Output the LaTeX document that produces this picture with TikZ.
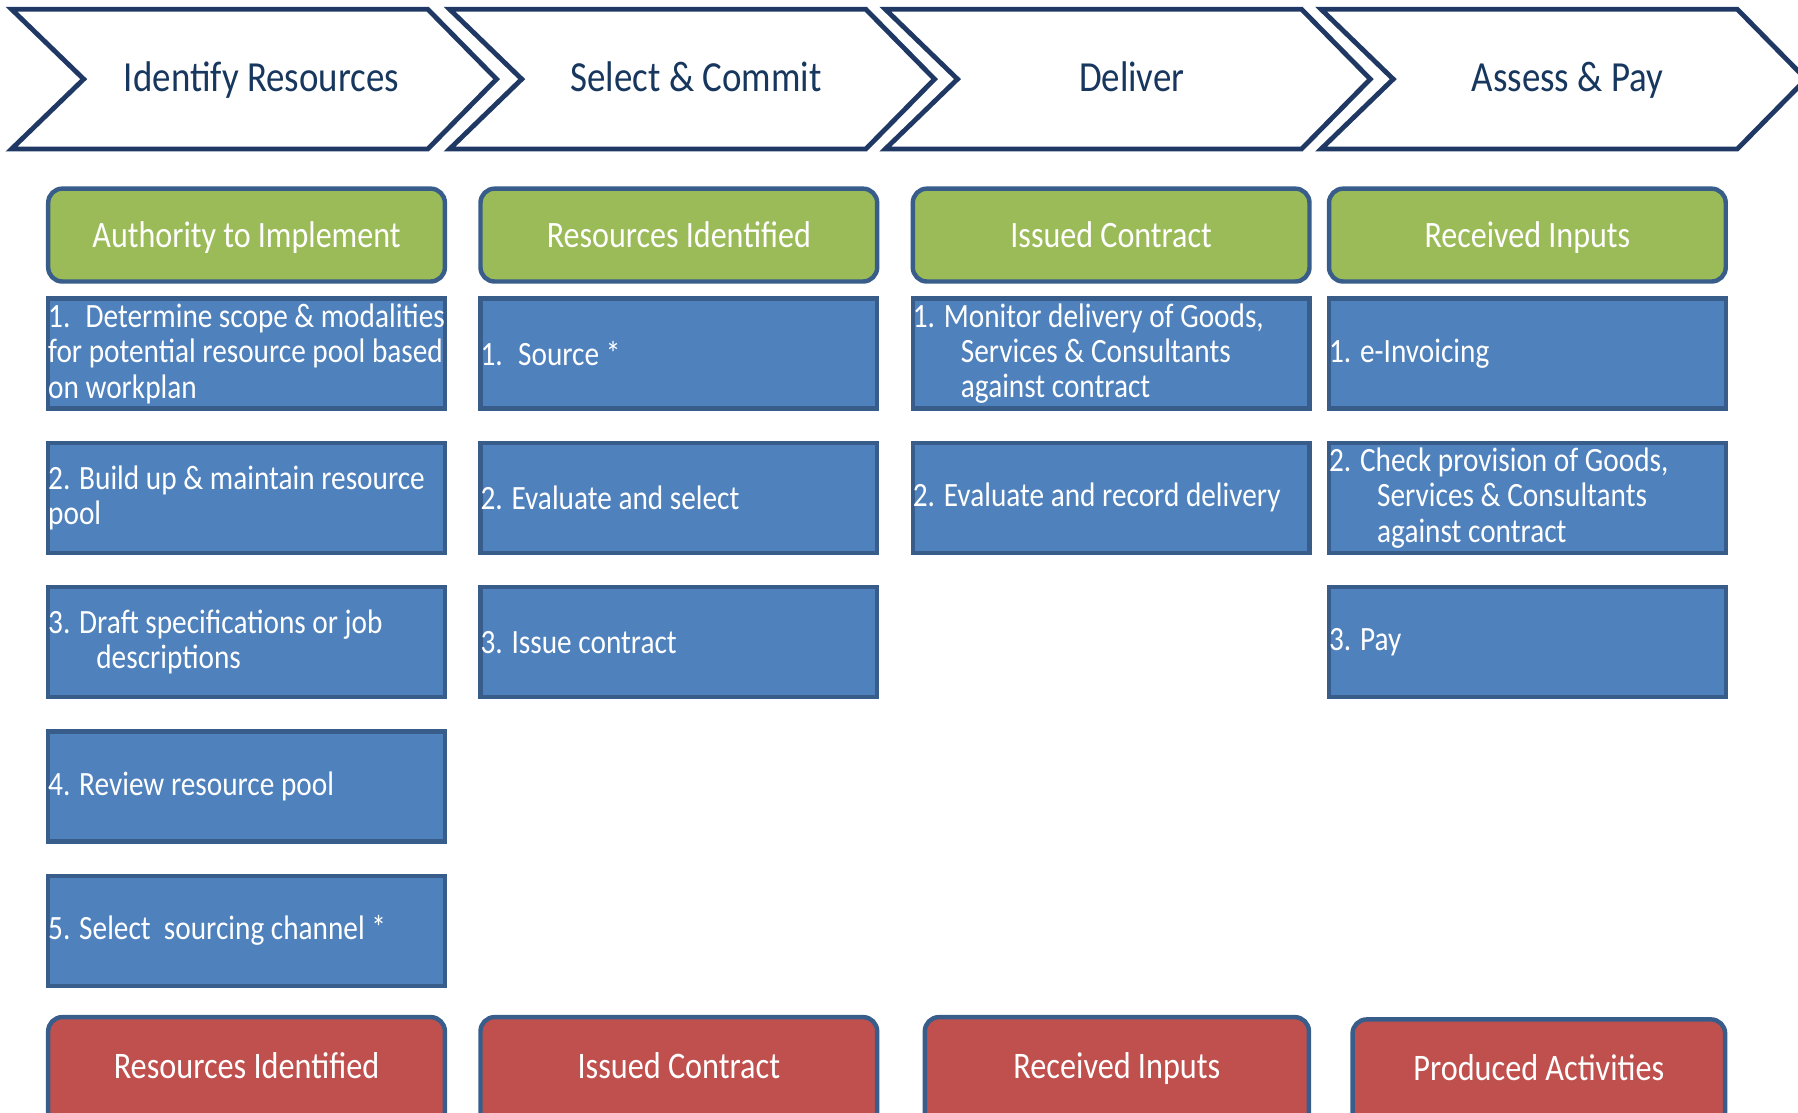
\documentclass[tikz,border=0pt]{standalone}
\usepackage{fontspec}
\setmainfont{Carlito}[FakeStretch=0.86]
\usetikzlibrary{positioning}
\definecolor{navy}{HTML}{1F3864}
\definecolor{headblue}{HTML}{17375E}
\definecolor{edgeblue}{HTML}{385D8A}
\definecolor{leaf}{HTML}{9BBB59}
\definecolor{sky}{HTML}{4F81BD}
\definecolor{brick}{HTML}{C0504D}
\begin{document}
\begin{tikzpicture}[x=0.02cm,y=-0.02cm,
  phase/.style={draw=navy,line width=2.4pt,line join=miter,fill=white},
  phasetext/.style={text=headblue,anchor=base,font=\fontsize{21.3}{25}\selectfont},
  outcome/.style={rectangle,rounded corners=7pt,draw=edgeblue,line width=2.2pt,fill=leaf,text=white,minimum width=6.92cm,minimum height=1.62cm,text height=1.38em,text depth=0.15em,font=\fontsize{18.5}{22}\selectfont},
  task/.style={rectangle,draw=edgeblue,line width=2.2pt,fill=sky,text=white,text width=6.92cm,inner xsep=0pt,inner ysep=0pt,minimum height=1.92cm,align=flush left,font=\fontsize{16.9}{17.6}\selectfont},
  result/.style={rectangle,rounded corners=7pt,draw=edgeblue,line width=2.2pt,fill=brick,text=white,minimum height=1.92cm,text height=0.9em,text depth=0.26em,font=\fontsize{18.6}{22}\selectfont}]
\useasboundingbox (0,0) rectangle (1568,970);

% phases
\draw [phase] (10,8) -- (373,8) -- (433,69) -- (373,130) -- (10,130) -- (73,69) -- cycle;
\draw [phase] (392,8) -- (755,8) -- (815,69) -- (755,130) -- (392,130) -- (455,69) -- cycle;
\draw [phase] (772,8) -- (1135,8) -- (1195,69) -- (1135,130) -- (772,130) -- (835,69) -- cycle;
\draw [phase] (1152,8) -- (1515,8) -- (1575,69) -- (1515,130) -- (1152,130) -- (1215,69) -- cycle;
\node [phasetext] (identify) at (228,80) {Identify Resources};
\node [phasetext] (select) at (607,80) {Select \& Commit};
\node [phasetext] (deliver) at (987,80) {Deliver};
\node [phasetext] (assess) at (1367,80) {Assess \& Pay};

% inputs
\node [outcome] (authority) at (215,205) {Authority to Implement};
\node [outcome] (identified) at (592,205) {Resources Identified};
\node [outcome] (issued) at (969,205) {Issued Contract};
\node [outcome] (received) at (1332,205) {Received Inputs};

% column 1
\node [task,below=0.22cm of authority] (scope) {1.~ Determine scope \& modalities\\for potential resource pool based\\on workplan};
\node [task,below=0.52cm of scope] (build) {2. Build up \& maintain resource\\pool};
\node [task,below=0.52cm of build] (draft) {3. Draft specifications or job\\\hspace*{0.84cm}descriptions};
\node [task,below=0.52cm of draft] (review) {4. Review resource pool};
\node [task,below=0.52cm of review] (channel) {5. Select~ sourcing channel *};

% column 2
\node [task,below=0.22cm of identified] (source) {1.~ Source *};
\node [task,below=0.52cm of source] (evaluate) {2. Evaluate and select};
\node [task,below=0.52cm of evaluate] (contract) {3. Issue contract};

% column 3
\node [task,below=0.22cm of issued] (monitor) {1. Monitor delivery of Goods,\\\hspace*{0.84cm}Services \& Consultants\\\hspace*{0.84cm}against contract};
\node [task,below=0.52cm of monitor] (record) {2. Evaluate and record delivery};

% column 4
\node [task,below=0.22cm of received] (invoice) {1. e-Invoicing};
\node [task,below=0.52cm of invoice] (check) {2. Check provision of Goods,\\\hspace*{0.84cm}Services \& Consultants\\\hspace*{0.84cm}against contract};
\node [task,below=0.52cm of check] (pay) {3. Pay};

% outputs
\node [result,minimum width=6.92cm] (outident) at (215,935) {Resources Identified};
\node [result,minimum width=6.92cm] (outissued) at (592,935) {Issued Contract};
\node [result,minimum width=6.7cm] (outreceived) at (974,935) {Received Inputs};
\node [result,minimum width=6.5cm] (outproduced) at (1342,937) {Produced Activities};
\end{tikzpicture}
\end{document}
